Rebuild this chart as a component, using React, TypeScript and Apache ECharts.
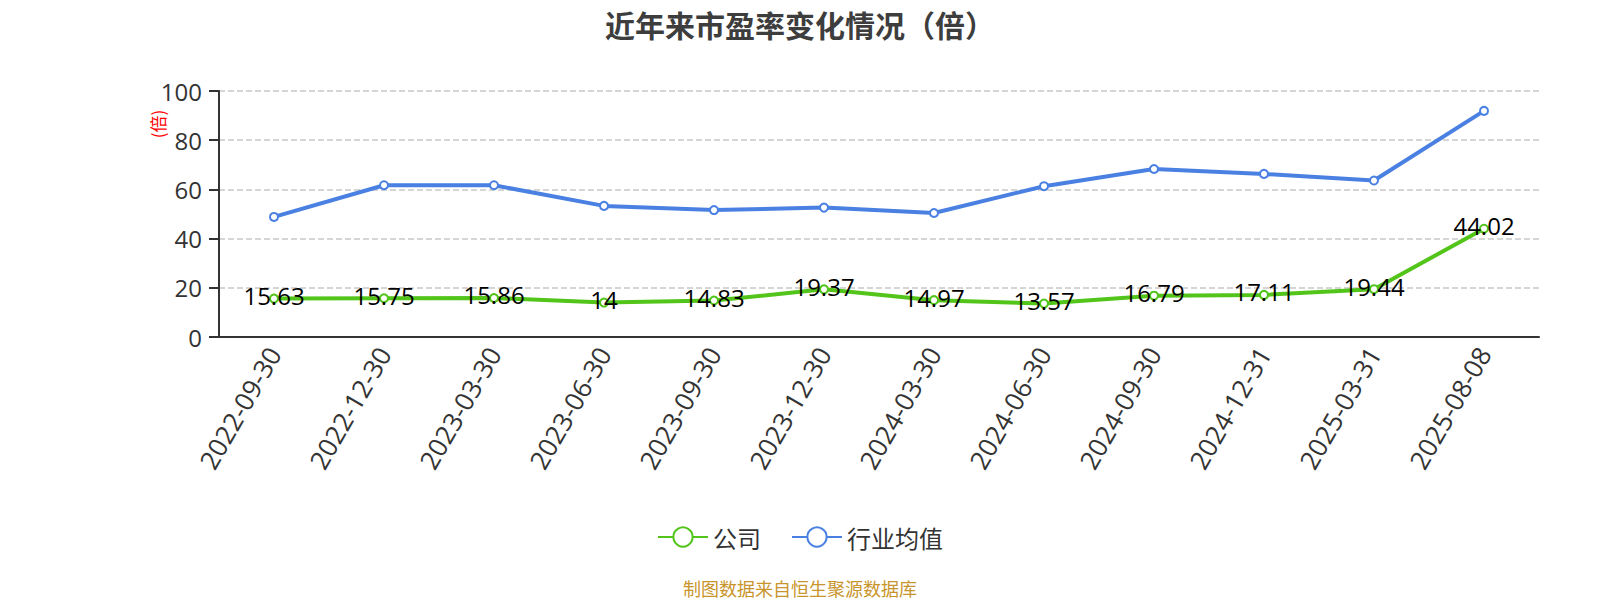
import React, { useEffect, useRef } from 'react';
import * as echarts from 'echarts';

// report dates
const dates = [
  '2022-09-30', '2022-12-30', '2023-03-30', '2023-06-30', '2023-09-30', '2023-12-30',
  '2024-03-30', '2024-06-30', '2024-09-30', '2024-12-31', '2025-03-31', '2025-08-08',
];
// company PE
const companyPE = [15.63, 15.75, 15.86, 14, 14.83, 19.37, 14.97, 13.57, 16.79, 17.11, 19.44, 44.02];
// industry average PE
const industryPE = [48.8, 61.7, 61.7, 53.3, 51.6, 52.6, 50.4, 61.3, 68.3, 66.3, 63.6, 91.9];

const FONT = "'Open Sans', 'Noto Sans CJK SC', sans-serif";
const CJK = "'Noto Sans CJK SC', sans-serif";

const App: React.FC = () => {
  const chartRef = useRef<HTMLDivElement>(null);

  useEffect(() => {
    document.body.style.margin = '0';
    const chart = echarts.init(chartRef.current!, null, { renderer: 'svg' });

    const options = {
      animation: false,
      textStyle: { fontFamily: FONT },
      title: {
        text: '近年来市盈率变化情况（倍）',
        left: 'center',
        top: 4,
        textStyle: {
          fontFamily: CJK,
          fontSize: 30,
          fontWeight: 'bold',
          color: '#3d3d3d',
        },
      },
      grid: { left: 219, right: 61, top: 91, bottom: 263 },
      legend: {
        top: 520,
        left: 'center',
        itemWidth: 50,
        itemHeight: 24,
        itemGap: 30,
        textStyle: { fontSize: 24, color: '#333', fontFamily: CJK },
        data: ['公司', '行业均值'],
      },
      graphic: [
        {
          type: 'text',
          x: 157,
          y: 124,
          rotation: Math.PI / 2,
          style: {
            text: '(倍)',
            fill: '#ff0000',
            fontSize: 17,
            fontFamily: CJK,
            align: 'center',
            verticalAlign: 'middle',
          },
        },
        {
          type: 'text',
          x: 800,
          y: 588,
          style: {
            text: '制图数据来自恒生聚源数据库',
            fill: '#c8952c',
            fontSize: 18,
            fontFamily: CJK,
            align: 'center',
            verticalAlign: 'middle',
          },
        },
      ],
      xAxis: {
        type: 'category',
        data: dates,
        boundaryGap: true,
        axisLine: { lineStyle: { color: '#333', width: 2 } },
        axisTick: { alignWithLabel: false, length: 9, lineStyle: { color: '#333', width: 2 } },
        axisLabel: { rotate: 60, fontSize: 26, color: '#333', margin: 12, interval: 0 },
      },
      yAxis: {
        type: 'value',
        min: 0,
        max: 100,
        interval: 20,
        axisLine: { show: true, lineStyle: { color: '#333', width: 2 } },
        axisTick: { show: true, length: 10, lineStyle: { color: '#333', width: 2 } },
        axisLabel: { fontSize: 24, color: '#333', margin: 17 },
        splitLine: { lineStyle: { type: 'dashed', color: '#c8c8c8', width: 1.5 } },
      },
      series: [
        {
          name: '公司',
          type: 'line',
          data: companyPE,
          symbol: 'emptyCircle',
          symbolSize: 8,
          itemStyle: { color: '#52c41a', borderWidth: 2 },
          lineStyle: { color: '#52c41a', width: 4 },
          label: {
            show: true,
            position: 'inside',
            offset: [0, -3],
            fontSize: 24,
            color: '#000',
          },
          z: 3,
        },
        {
          name: '行业均值',
          type: 'line',
          data: industryPE,
          symbol: 'emptyCircle',
          symbolSize: 8,
          itemStyle: { color: '#4a80e2', borderWidth: 2 },
          lineStyle: { color: '#4a80e2', width: 4 },
          z: 2,
        },
      ],
    };

    chart.setOption(options);

    return () => {
      chart.dispose();
    };
  }, []);

  return <div ref={chartRef} style={{ width: '1600px', height: '600px' }} />;
};

export default App;
